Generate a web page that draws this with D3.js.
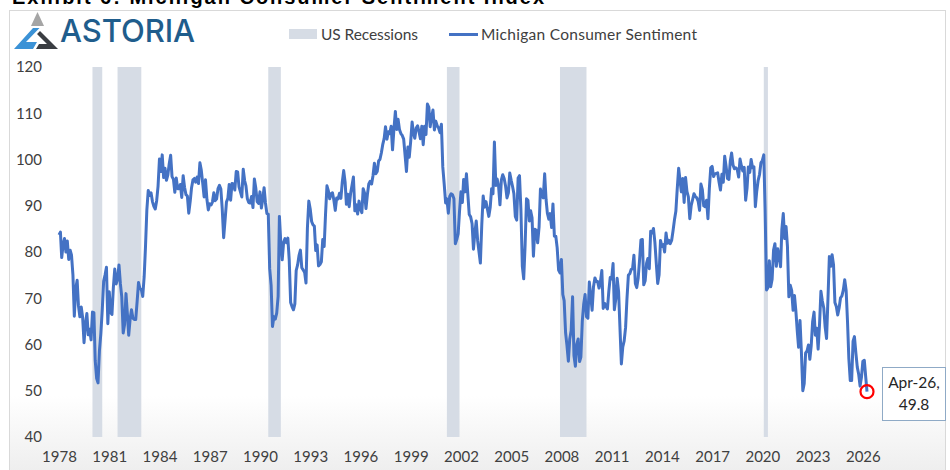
<!DOCTYPE html>
<html>
<head>
<meta charset="utf-8">
<title>Michigan Consumer Sentiment</title>
<script src="https://d3js.org/d3.v7.min.js"></script>
<style>
  body { margin: 0; background: #fff; }
  text { font-family: Lato, "Liberation Sans", sans-serif; }
</style>
</head>
<body>
<div id="chart"></div>
<script>

// monthly index values, Jan 1978 .. Apr 2026
var startYear = 1978;
var sentiment = [
  83.7, 84.3, 78.8, 81.6, 82.9, 80.0, 82.4, 78.4, 80.4, 79.3, 75.0, 66.1,
  72.1, 73.9, 68.4, 66.0, 68.1, 65.8, 60.4, 64.5, 66.7, 62.1, 63.3, 61.0,
  67.0, 66.9, 56.5, 52.7, 51.7, 58.7, 62.3, 67.4, 73.7, 75.0, 76.7, 64.5,
  71.4, 66.9, 66.5, 72.4, 76.3, 73.1, 74.1, 77.2, 73.1, 70.3, 62.5, 64.3,
  71.0, 66.5, 62.0, 65.5, 67.5, 65.7, 65.4, 65.4, 69.3, 73.4, 72.1, 71.9,
  70.4, 74.6, 80.8, 89.1, 93.3, 92.2, 92.8, 90.9, 89.9, 89.3, 91.1, 94.2,
  100.1, 97.4, 101.0, 96.1, 98.1, 95.5, 96.6, 99.1, 100.9, 96.3, 95.7, 92.9,
  96.0, 93.7, 93.7, 94.6, 91.8, 96.5, 94.0, 92.4, 92.1, 88.4, 90.9, 93.9,
  95.6, 95.9, 95.1, 96.2, 94.8, 99.3, 97.7, 94.9, 91.9, 95.6, 91.4, 89.1,
  90.4, 90.2, 90.8, 92.8, 91.1, 91.5, 93.7, 94.4, 93.6, 89.3, 83.1, 86.8,
  90.8, 91.6, 94.6, 91.2, 94.8, 94.7, 93.4, 97.4, 97.3, 94.1, 93.0, 91.9,
  97.9, 95.4, 94.3, 91.5, 90.7, 90.6, 92.0, 89.6, 95.8, 93.9, 90.9, 90.5,
  93.0, 89.5, 91.3, 93.9, 90.6, 88.3, 88.2, 76.4, 72.8, 63.9, 66.0, 65.5,
  66.8, 70.4, 87.7, 81.8, 78.3, 82.1, 82.9, 82.0, 83.0, 78.3, 69.1, 68.2,
  67.5, 68.8, 76.0, 77.2, 79.2, 80.4, 76.6, 76.1, 75.6, 73.3, 85.3, 91.0,
  89.3, 86.6, 85.9, 85.6, 80.3, 81.5, 77.0, 77.3, 77.9, 82.7, 81.2, 88.2,
  94.3, 93.2, 91.5, 92.6, 92.8, 91.2, 89.0, 91.7, 91.5, 92.7, 91.6, 95.1,
  97.6, 95.1, 90.3, 92.5, 89.8, 92.7, 94.4, 96.2, 88.9, 90.2, 88.2, 91.0,
  89.3, 88.5, 93.7, 92.7, 89.4, 92.4, 94.7, 95.3, 94.7, 96.5, 99.2, 96.9,
  97.4, 99.7, 100.0, 101.4, 103.2, 104.5, 107.1, 104.4, 106.0, 105.6, 107.2, 102.1,
  106.6, 110.4, 106.5, 108.7, 106.5, 105.6, 105.2, 104.4, 100.9, 97.4, 102.7, 100.5,
  103.9, 108.1, 105.7, 104.6, 106.8, 107.3, 106.0, 104.5, 107.2, 103.2, 107.2, 105.4,
  112.0, 111.3, 107.1, 109.2, 110.7, 106.4, 108.3, 107.3, 106.8, 105.8, 107.6, 98.4,
  94.7, 90.6, 91.5, 88.4, 92.0, 92.6, 92.4, 91.5, 81.8, 82.7, 83.9, 88.8,
  93.0, 90.7, 95.7, 93.0, 96.9, 92.4, 88.1, 87.6, 86.1, 80.6, 84.2, 86.7,
  82.4, 79.9, 77.6, 86.0, 92.1, 89.7, 90.9, 89.3, 87.7, 89.6, 93.7, 92.6,
  103.8, 94.4, 95.8, 94.2, 90.2, 95.6, 96.7, 95.9, 94.2, 91.7, 92.8, 97.1,
  95.5, 94.1, 92.6, 87.7, 86.9, 96.0, 96.5, 89.1, 76.9, 74.2, 81.6, 91.5,
  91.2, 86.7, 88.9, 87.4, 79.1, 84.9, 84.7, 82.0, 85.4, 93.6, 92.1, 91.7,
  96.9, 91.3, 88.4, 87.1, 88.3, 85.3, 90.4, 83.4, 83.4, 80.9, 76.1, 75.5,
  78.4, 70.8, 69.5, 62.6, 59.8, 56.4, 61.2, 63.0, 70.3, 57.6, 55.3, 60.1,
  61.2, 56.3, 57.3, 65.1, 68.7, 70.8, 66.0, 65.7, 73.5, 70.6, 67.4, 72.5,
  74.4, 73.6, 73.6, 72.2, 73.6, 76.0, 67.8, 68.9, 68.2, 67.7, 71.6, 74.5,
  74.2, 77.5, 67.5, 69.8, 74.3, 71.5, 63.7, 55.8, 59.5, 60.8, 63.7, 69.9,
  75.0, 75.3, 76.2, 76.4, 79.3, 73.2, 72.3, 74.3, 78.3, 82.6, 82.7, 72.9,
  73.8, 77.6, 78.6, 76.4, 84.5, 84.1, 85.1, 82.1, 77.5, 73.2, 75.1, 82.5,
  81.2, 81.6, 80.0, 84.1, 81.9, 82.5, 81.8, 82.5, 84.6, 86.9, 88.8, 93.6,
  98.1, 95.4, 93.0, 95.9, 90.7, 96.1, 93.1, 91.9, 87.2, 90.0, 91.3, 92.6,
  92.0, 91.7, 91.0, 89.0, 94.7, 93.5, 90.0, 89.8, 91.2, 87.2, 93.8, 98.2,
  98.5, 96.3, 96.9, 97.0, 97.1, 95.1, 93.4, 96.8, 95.1, 100.7, 98.5, 95.9,
  95.7, 99.7, 101.4, 98.8, 98.0, 98.2, 97.9, 96.2, 100.1, 98.6, 97.5, 98.3,
  91.2, 93.8, 98.4, 97.2, 100.0, 98.2, 98.4, 89.8, 93.2, 95.5, 96.8, 99.3,
  99.8, 101.0, 89.1, 71.8, 72.3, 78.1, 72.5, 74.1, 80.4, 81.8, 76.9, 80.7,
  79.0, 76.8, 84.9, 88.3, 82.9, 85.5, 81.2, 70.3, 72.8, 71.7, 67.4, 70.6,
  67.2, 62.8, 59.4, 65.2, 58.4, 50.0, 51.5, 58.2, 58.6, 59.9, 56.8, 59.7,
  64.9, 67.0, 62.0, 63.5, 59.0, 64.4, 71.5, 69.4, 67.9, 63.8, 61.3, 69.7,
  79.0, 76.9, 79.4, 77.2, 69.1, 68.2, 66.4, 67.9, 70.1, 70.5, 71.8, 74.0,
  71.7, 64.7, 57.0, 52.2, 52.2, 60.7, 61.7, 58.2, 55.1, 53.6, 51.0, 52.9,
  56.4, 56.6, 53.3, 49.8
];

// recession spans, first and last month (inclusive)
var recessions = [
  ["1980-01", "1980-07"],
  ["1981-07", "1982-11"],
  ["1990-07", "1991-03"],
  ["2001-03", "2001-11"],
  ["2007-12", "2009-06"],
  ["2020-02", "2020-04"]
];

var yTicks = [40, 50, 60, 70, 80, 90, 100, 110, 120];
var xTickYears = [1978, 1981, 1984, 1987, 1990, 1993, 1996, 1999, 2002, 2005, 2008, 2011, 2014, 2017, 2020, 2023, 2026];
var lastLabel = ["Apr-26,", "49.8"];

var W = 950, H = 470;
var plot = {left: 59, right: 867, top: 67, bottom: 437};

var parseMonth = d3.timeParse("%Y-%m");
var data = sentiment.map(function(v, i) {
  return {date: new Date(startYear + Math.floor(i / 12), i % 12, 1), value: v};
});

var svg = d3.select("#chart").append("svg")
    .attr("width", W)
    .attr("height", H);

var defs = svg.append("defs");
var grad = defs.append("linearGradient")
    .attr("id", "bg")
    .attr("x1", 0).attr("y1", 0).attr("x2", 0).attr("y2", 1);
grad.append("stop").attr("offset", "0.82").attr("stop-color", "#ffffff");
grad.append("stop").attr("offset", "1").attr("stop-color", "#ececec");

// title (sits half above the page edge, as in the screenshot)
svg.append("text")
    .attr("x", 12)
    .attr("y", 4)
    .attr("textLength", 532)
    .style("font-family", "'Liberation Sans', Arial, sans-serif")
    .style("font-weight", "bold")
    .style("font-size", "20px")
    .style("fill", "#000")
    .text("Exhibit 6: Michigan Consumer Sentiment Index");

// frame
svg.append("rect")
    .attr("x", 9.5)
    .attr("y", 10.5)
    .attr("width", 936)
    .attr("height", 470)
    .style("fill", "url(#bg)")
    .style("stroke", "#d9d9d9")
    .style("stroke-width", 1);

// logo
var logo = svg.append("g");
logo.append("path").attr("d", "M31,26 L37.5,12 L44,26 Z").style("fill", "#a5a5a5");
logo.append("path").attr("d", "M14,49 L33,28 L39.5,28 L26,42 L37,42 L33,49 Z").style("fill", "#3b92d6");
logo.append("path").attr("d", "M40,31 L58,49 L36,49 L39,44 L47,44 L37,34 Z").style("fill", "#3a3d42");
logo.append("text")
    .attr("x", 60)
    .attr("y", 42)
    .attr("textLength", 135)
    .style("font-family", "Inter, 'DejaVu Sans', sans-serif")
    .style("font-weight", 500)
    .style("font-size", "31px")
    .style("fill", "#1f5d8c")
    .text("ASTORIA");

var x = d3.scaleTime()
    .domain([data[0].date, data[data.length - 1].date])
    .range([plot.left, plot.right]);

var y = d3.scaleLinear()
    .domain([40, 120])
    .range([plot.bottom, plot.top]);

// recession bands
svg.selectAll(".recession")
    .data(recessions)
  .enter().append("rect")
    .attr("class", "recession")
    .attr("x", function(d) { return x(parseMonth(d[0])); })
    .attr("width", function(d) {
      var end = d3.timeMonth.offset(parseMonth(d[1]), 1);
      return x(end) - x(parseMonth(d[0]));
    })
    .attr("y", y(120))
    .attr("height", y(40) - y(120))
    .style("fill", "#d6dce5");

// axes (labels only)
var yAxis = d3.axisLeft(y).tickValues(yTicks).tickSize(0).tickPadding(0);
svg.append("g")
    .attr("transform", "translate(42,0)")
    .call(yAxis)
    .call(function(g) { g.select(".domain").remove(); })
    .selectAll("text")
      .style("font-family", "Lato, sans-serif")
      .style("font-size", "15px")
      .style("fill", "#404040");

var xAxis = d3.axisBottom(x)
    .tickValues(xTickYears.map(function(yr) { return new Date(yr, 0, 1); }))
    .tickFormat(d3.timeFormat("%Y"))
    .tickSize(0)
    .tickPadding(0);
svg.append("g")
    .attr("transform", "translate(0,451)")
    .call(xAxis)
    .call(function(g) { g.select(".domain").remove(); })
    .selectAll("text")
      .style("font-family", "Lato, sans-serif")
      .style("font-size", "15px")
      .style("fill", "#404040");

// sentiment line
var line = d3.line()
    .x(function(d) { return x(d.date); })
    .y(function(d) { return y(d.value); });

svg.append("path")
    .datum(data)
    .attr("d", line)
    .style("fill", "none")
    .style("stroke", "#4472c4")
    .style("stroke-width", 3)
    .style("stroke-linejoin", "round");

// last point marker + label
var last = data[data.length - 1];
svg.append("circle")
    .attr("cx", x(last.date))
    .attr("cy", y(last.value))
    .attr("r", 6.5)
    .style("fill", "none")
    .style("stroke", "#ff0000")
    .style("stroke-width", 2.2);

var box = svg.append("g").attr("transform", "translate(882,367)");
box.append("rect")
    .attr("x", 0.5).attr("y", 0.5)
    .attr("width", 63).attr("height", 53)
    .style("fill", "#fff")
    .style("stroke", "#8faac6")
    .style("stroke-width", 1);
box.selectAll("text")
    .data(lastLabel)
  .enter().append("text")
    .attr("x", 32)
    .attr("y", function(d, i) { return 21 + i * 22; })
    .attr("text-anchor", "middle")
    .style("font-size", "15.5px")
    .style("fill", "#262626")
    .text(function(d) { return d; });

// legend
var legend = svg.append("g").style("font-size", "15.5px").style("fill", "#404040");
legend.append("rect")
    .attr("x", 289).attr("y", 29)
    .attr("width", 28).attr("height", 10)
    .style("fill", "#d6dce5");
legend.append("text").attr("x", 321).attr("y", 40).attr("textLength", 97)
    .style("fill", "#404040").text("US Recessions");
legend.append("line")
    .attr("x1", 449).attr("x2", 478)
    .attr("y1", 34.5).attr("y2", 34.5)
    .style("stroke", "#4472c4")
    .style("stroke-width", 3);
legend.append("text").attr("x", 481).attr("y", 40).attr("textLength", 216)
    .style("fill", "#404040").text("Michigan Consumer Sentiment");

</script>
</body>
</html>
